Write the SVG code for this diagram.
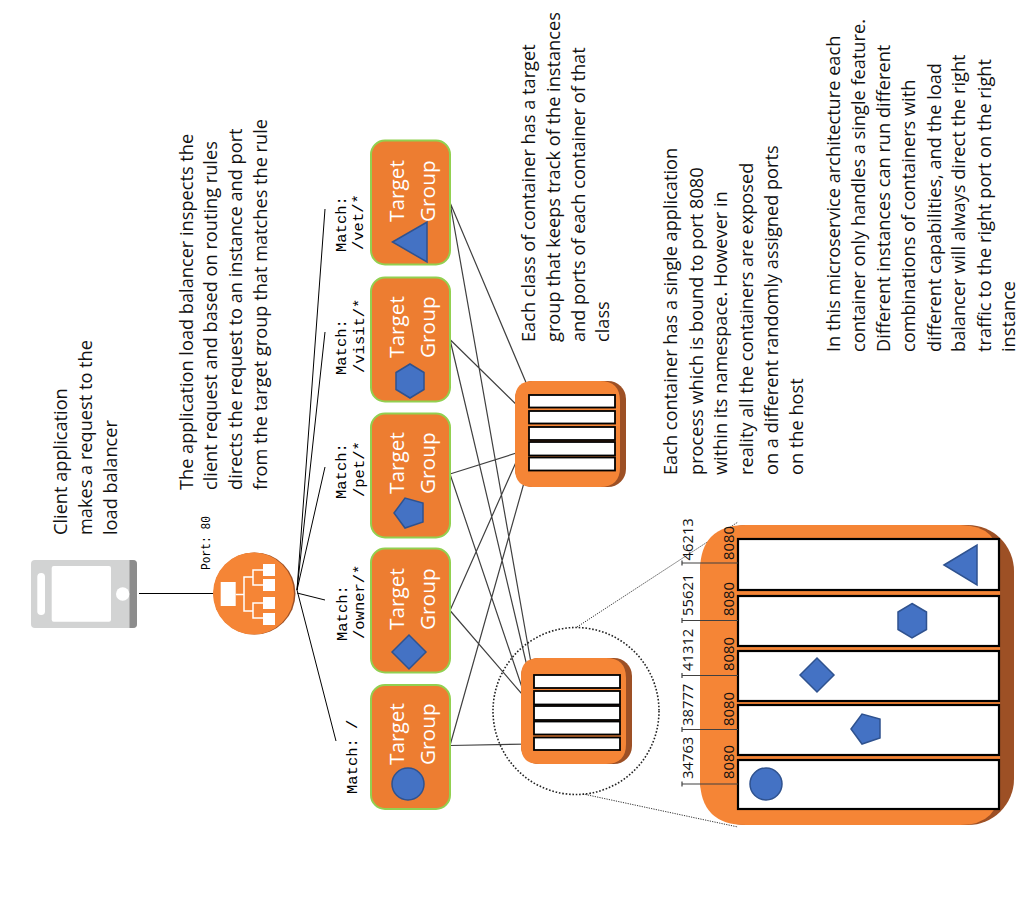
<svg xmlns="http://www.w3.org/2000/svg" width="1029" height="900" viewBox="0 0 1029 900">
<style>
text{font-family:"Open Sans","Noto Sans",sans-serif;fill:#111}
.n{font-size:18.2px}
.tg{font-size:20.8px;fill:#fff}
.m{font-family:"Liberation Mono",monospace;font-size:15.5px;fill:#000}
.p{font-family:"Liberation Mono",monospace;font-size:13px;fill:#000}
.d{font-size:14.8px}
.box{fill:#ED7D31;stroke:#92D050;stroke-width:2}
.ico{fill:#4472C4;stroke:#2F528F;stroke-width:1.5}
.or{fill:#F58536}
.dk{fill:#9D5025}
.cell{fill:#fff;stroke:#000;stroke-width:1.8}
.big{fill:#fff;stroke:#000;stroke-width:2.2}
.c{stroke:#404040;stroke-width:1.2;fill:none}
.k{stroke:#000;stroke-width:1;fill:none}
.dot{stroke:#333;stroke-width:1;stroke-dasharray:1.2 1.2;fill:none}
.w{stroke:#fff;stroke-width:1.5;fill:none}
</style>
<g id="connectors">
<path class="k" d="M139 593.5H216M297 590L336 741M297 593L325 600M297 590L325 467M297 590L325 332M297 590L325 209"/>
<path class="c" d="M450 202.500L530 392M450 202.500L534 680M450 339.500L529 417M450 339.500L534 696M450 474L529 449M450 474L534 723M450 610.500L529 433M450 610.500L534 708M450 745.500L529 465M450 745.500L534 744"/>
<path class="dot" d="M577 627L738 522M583 794L738 827"/>
</g>
<g id="phone">
<rect x="31" y="560" width="106" height="68" rx="4" fill="#D2D3D3"/>
<path d="M129.500 560H133a4 4 0 0 1 4 4V624a4 4 0 0 1-4 4H129.500z" fill="#8C8C8C"/>
<rect x="51.700" y="566" width="59.300" height="55.700" rx="2" fill="#fff"/>
<rect x="37.300" y="573" width="7.700" height="42" rx="3.800" fill="#fff"/>
<circle cx="122.700" cy="594" r="6.700" fill="#fff"/>
</g>
<g id="load-balancer">
<circle cx="254.500" cy="593.500" r="41" class="dk"/>
<ellipse cx="253.500" cy="593.500" rx="40.500" ry="41" class="or"/>
<rect x="220.700" y="582" width="15" height="24" fill="#fff"/>
<rect x="263" y="564" width="12" height="12" fill="#fff"/>
<rect x="263" y="579" width="12" height="12" fill="#fff"/>
<rect x="263" y="597" width="12" height="12" fill="#fff"/>
<rect x="263" y="613" width="12" height="12" fill="#fff"/>
<path class="w" d="M235.700 594.500H244M253 577H244V611H253M263 570H253V585H263M263 603H253V618H263"/>
<text class="p" transform="translate(210 570) rotate(-90)" textLength="54" lengthAdjust="spacingAndGlyphs">Port: 80</text>
</g>
<g id="tg-root">
<rect class="box" x="371" y="685" width="79" height="124" rx="14"/>
<text class="tg" transform="translate(404 765) rotate(-90)">Target</text>
<text class="tg" transform="translate(435 765) rotate(-90)">Group</text>
<circle class="ico" cx="408" cy="784" r="16"/>
<text class="m" transform="translate(357 794) rotate(-90)">Match: /</text>
</g>
<g id="tg-owner">
<rect class="box" x="371" y="548.500" width="79" height="124" rx="14"/>
<text class="tg" transform="translate(404 630) rotate(-90)">Target</text>
<text class="tg" transform="translate(435 630) rotate(-90)">Group</text>
<path class="ico" d="M392 652L409 635L426 652L409 669Z"/>
<text class="m" transform="translate(347 641) rotate(-90)">Match:</text>
<text class="m" transform="translate(364 639) rotate(-90)">/owner/*</text>
</g>
<g id="tg-pet">
<rect class="box" x="371" y="413.500" width="79" height="124" rx="14"/>
<text class="tg" transform="translate(404 494) rotate(-90)">Target</text>
<text class="tg" transform="translate(435 494) rotate(-90)">Group</text>
<path class="ico" d="M394 513L405 498L423 503V522L405 528Z"/>
<text class="m" transform="translate(346 499) rotate(-90)">Match:</text>
<text class="m" transform="translate(364 497) rotate(-90)">/pet/*</text>
</g>
<g id="tg-visit">
<rect class="box" x="371" y="277.500" width="79" height="124" rx="14"/>
<text class="tg" transform="translate(404 358) rotate(-90)">Target</text>
<text class="tg" transform="translate(435 358) rotate(-90)">Group</text>
<path class="ico" d="M410 364L424 372.500V389.500L410 398L396 389.500V372.500Z"/>
<text class="m" transform="translate(346 375) rotate(-90)">Match:</text>
<text class="m" transform="translate(364 373) rotate(-90)">/visit/*</text>
</g>
<g id="tg-vet">
<rect class="box" x="371" y="140.500" width="79" height="124" rx="14"/>
<text class="tg" transform="translate(404 222) rotate(-90)">Target</text>
<text class="tg" transform="translate(435 222) rotate(-90)">Group</text>
<path class="ico" d="M392.500 242L427 222V262Z"/>
<text class="m" transform="translate(346 252) rotate(-90)">Match:</text>
<text class="m" transform="translate(363 250) rotate(-90)">/vet/*</text>
</g>
<g id="cluster-top">
<rect class="dk" x="515" y="381" width="111" height="106" rx="18"/>
<path class="or" d="M533 381H600Q620 381 620 401V467Q620 487 600 487H533Q515 487 515 469V399Q515 381 533 381Z"/>
<rect class="cell" x="529" y="395" width="86" height="12.500"/>
<rect class="cell" x="529" y="411" width="86" height="12.500"/>
<rect class="cell" x="529" y="427" width="86" height="13"/>
<rect class="cell" x="529" y="442" width="86" height="13.500"/>
<rect class="cell" x="529" y="457.500" width="86" height="13"/>
</g>
<g id="cluster-bottom">
<rect class="dk" x="521" y="658" width="111" height="106" rx="18"/>
<path class="or" d="M539 658H606Q626 658 626 678V744Q626 764 606 764H539Q521 764 521 746V676Q521 658 539 658Z"/>
<rect class="cell" x="534" y="675" width="86" height="13"/>
<rect class="cell" x="534" y="691" width="86" height="13.500"/>
<rect class="cell" x="534" y="706" width="86" height="14"/>
<rect class="cell" x="534" y="721.500" width="86" height="13"/>
<rect class="cell" x="534" y="737.500" width="86" height="12.500"/>
</g>
<g id="zoom-circle">
<ellipse cx="576" cy="711" rx="83" ry="83.500" fill="none" stroke="#222" stroke-width="1.600" stroke-dasharray="1.600 1.800"/>
</g>
<g id="instance-detail">
<rect class="dk" x="700" y="525" width="314" height="300" rx="46"/>
<path class="or" d="M746 525H960Q1000 525 1000 565V785Q1000 825 960 825H746Q700 825 700 779V571Q700 525 746 525Z"/>
<rect class="big" x="738" y="539" width="261" height="51"/>
<rect class="big" x="738" y="596" width="261" height="50"/>
<rect class="big" x="738" y="651" width="261" height="50"/>
<rect class="big" x="738" y="705" width="261" height="50"/>
<rect class="big" x="738" y="760" width="261" height="49"/>
<path class="ico" d="M944 565L977 545V585Z"/>
<path class="ico" d="M912 603.500L926.500 612V629.500L912 638L898 629.500V612Z"/>
<path class="ico" d="M800 675L817 658L834 675L817 692Z"/>
<path class="ico" d="M851 729L862 714L880 719V738L862 744Z"/>
<circle class="ico" cx="766" cy="784" r="16"/>
<path class="c" d="M682 560.500V565.500M682 563H738M682 618V623M682 620.500H738M682 673V678M682 675.500H738M682 727V732M682 729.500H738M682 781.500V786.500M682 784H738"/>
<text class="d" transform="translate(692.500 560.500) rotate(-90)">46213</text>
<text class="d" transform="translate(692.500 616) rotate(-90)">55621</text>
<text class="d" transform="translate(692.500 671) rotate(-90)">41312</text>
<text class="d" transform="translate(692.500 726) rotate(-90)">38777</text>
<text class="d" transform="translate(692.500 779) rotate(-90)">34763</text>
<text class="d" transform="translate(734 560) rotate(-90)">8080</text>
<text class="d" transform="translate(734 616) rotate(-90)">8080</text>
<text class="d" transform="translate(734 671) rotate(-90)">8080</text>
<text class="d" transform="translate(734 726) rotate(-90)">8080</text>
<text class="d" transform="translate(734 779) rotate(-90)">8080</text>
</g>
<g id="notes">
<text class="n" transform="translate(67 535) rotate(-90)">Client application</text>
<text class="n" transform="translate(92 535) rotate(-90)">makes a request to the</text>
<text class="n" transform="translate(117 535) rotate(-90)">load balancer</text>
<text class="n" transform="translate(193 490) rotate(-90)">The application load balancer inspects the</text>
<text class="n" transform="translate(217 490) rotate(-90)">client request and based on routing rules</text>
<text class="n" transform="translate(242 490) rotate(-90)">directs the request to an instance and port</text>
<text class="n" transform="translate(267 490) rotate(-90)">from the target group that matches the rule</text>
<text class="n" transform="translate(535 342) rotate(-90)">Each class of container has a target</text>
<text class="n" transform="translate(560 342) rotate(-90)">group that keeps track of the instances</text>
<text class="n" transform="translate(585 342) rotate(-90)">and ports of each container of that</text>
<text class="n" transform="translate(609 342) rotate(-90)">class</text>
<text class="n" transform="translate(677 475) rotate(-90)">Each container has a single application</text>
<text class="n" transform="translate(703 475) rotate(-90)">process which is bound to port 8080</text>
<text class="n" transform="translate(727 475) rotate(-90)">within its namespace. However in</text>
<text class="n" transform="translate(753 475) rotate(-90)">reality all the containers are exposed</text>
<text class="n" transform="translate(778 475) rotate(-90)">on a different randomly assigned ports</text>
<text class="n" transform="translate(803 475) rotate(-90)">on the host</text>
<text class="n" transform="translate(840 352) rotate(-90)">In this microservice architecture each</text>
<text class="n" transform="translate(865 352) rotate(-90)">container only handles a single feature.</text>
<text class="n" transform="translate(890 352) rotate(-90)">Different instances can run different</text>
<text class="n" transform="translate(915 352) rotate(-90)">combinations of containers with</text>
<text class="n" transform="translate(941 352) rotate(-90)">different capabilities, and the load</text>
<text class="n" transform="translate(965 352) rotate(-90)">balancer will always direct the right</text>
<text class="n" transform="translate(991 352) rotate(-90)">traffic to the right port on the right</text>
<text class="n" transform="translate(1015 352) rotate(-90)">instance</text>
</g>
</svg>
